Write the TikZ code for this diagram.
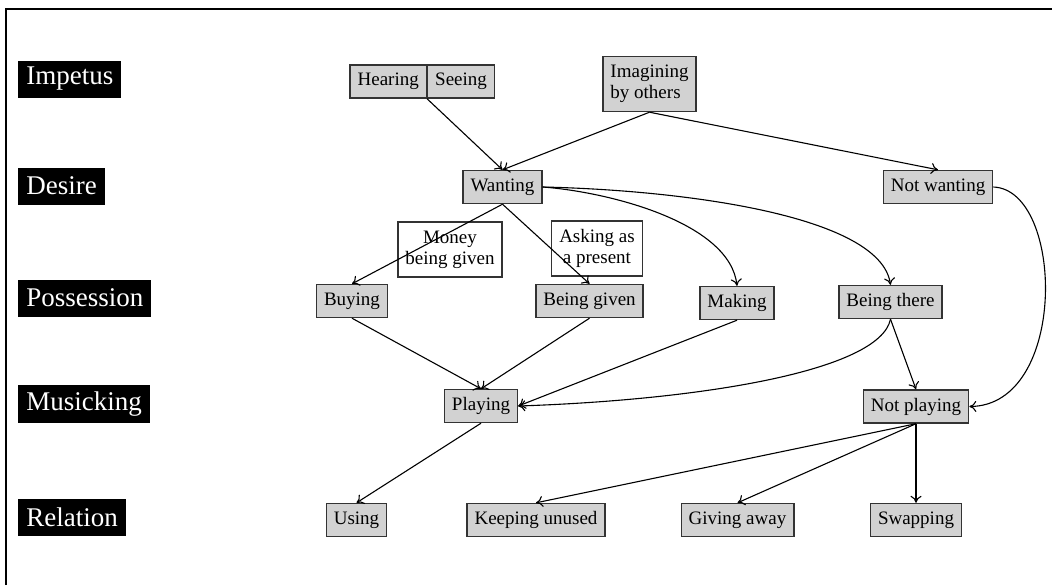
\documentclass[tikz,border=0pt]{standalone}
\usepackage{fontspec}
\setmainfont{Liberation Serif}
\usepackage{tikz}
\usetikzlibrary{positioning, arrows.meta}

\tikzset{
	tier/.style={fill=black, text=white, anchor=west, font=\fontsize{13.5}{16}\selectfont, minimum height=18.5pt, inner xsep=4pt},
	stagebox/.style={draw=black!80, line width=0.7pt, fill=gray!35, font=\fontsize{9.5}{11}\selectfont, minimum height=16.5pt, inner xsep=3.75pt},
	notebox/.style={draw=black!80, line width=0.7pt, fill=white, align=center, font=\fontsize{9.5}{10.5}\selectfont, minimum height=27.5pt, inner xsep=3.75pt},
	flow/.style={-{To[length=3.5pt, width=5.5pt]}, line width=0.55pt}
}

\begin{document}
\begin{tikzpicture}[x=0.5pt, y=0.5pt]
	\useasboundingbox (0,0) rectangle (1052,-585);
	\draw[line width=1pt] (6,-585) -- (6,-9) -- (1052,-9);
	\node[tier] (0) at (18,-79) {Impetus};
	\node[tier] (1) at (18,-186) {Desire};
	\node[tier] (2) at (18,-298) {Possession};
	\node[tier] (3) at (18,-404) {Musicking};
	\node[tier] (4) at (18,-517) {Relation};
	\node[stagebox, anchor=east] (5) at (427,-81.5) {Hearing};
	\node[stagebox, anchor=west] (6) at (427,-81.5) {Seeing};
	\node[stagebox, align=left, minimum height=27.5pt, font=\fontsize{9.5}{10.5}\selectfont] (7) at (649.5,-84) {Imagining\\by others};
	\node[stagebox] (8) at (502.5,-187) {Wanting};
	\node[stagebox] (9) at (938,-187) {Not wanting};
	\node[notebox] (10) at (450,-249.5) {Money\\being given};
	\node[notebox] (11) at (597,-248.5) {Asking as\\a present};
	\node[stagebox] (12) at (352,-301) {Buying};
	\node[stagebox] (13) at (589.5,-301) {Being given};
	\node[stagebox] (14) at (737,-303) {Making};
	\node[stagebox] (15) at (890.5,-302) {Being there};
	\node[stagebox] (16) at (481,-406) {Playing};
	\node[stagebox] (17) at (916,-406.5) {Not playing};
	\node[stagebox] (18) at (356.5,-520) {Using};
	\node[stagebox] (19) at (536,-520) {Keeping unused};
	\node[stagebox] (20) at (737.5,-520) {Giving away};
	\node[stagebox] (21) at (916,-520) {Swapping};
	\draw[flow] (5.south east) -- (8.north);
	\draw[flow] (7.south) -- (8.north);
	\draw[flow] (7.south) -- (9.north);
	\draw[flow] (8.south) -- (12.north);
	\draw[flow] (8.south) -- (13.north);
	\draw[flow] (8.east) .. controls +(67,-5) and +(-7,63) .. (14.north);
	\draw[flow] (8.east) .. controls +(137,-3) and +(-10,70) .. (15.north);
	\draw[flow] (9.east) .. controls +(71,-3) and +(99,1) .. (17.east);
	\draw[flow] (12.south) -- (16.north);
	\draw[flow] (13.south) -- (16.north);
	\draw[flow] (14.south) -- (16.east);
	\draw[flow] (15.south) .. controls +(-11,-52) and +(181,6) .. (16.east);
	\draw[flow] (15.south) -- (17.north);
	\draw[flow] (16.south) -- (18.north);
	\draw[flow] (17.south) -- (19.north);
	\draw[flow] (17.south) -- (20.north);
	\draw[flow] (17.south) -- (21.north);
\end{tikzpicture}
\end{document}
